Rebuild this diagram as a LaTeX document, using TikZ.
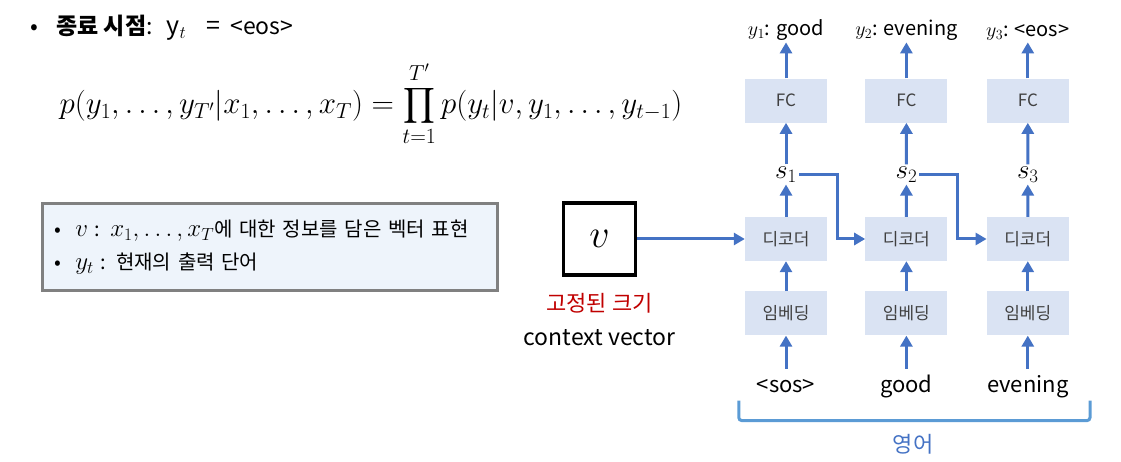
\RequirePackage{fix-cm}
\documentclass[tikz,border=0pt]{standalone}
\usepackage[no-math]{fontspec}
\usepackage{amsmath}
\setmainfont{Noto Sans CJK KR}
\usepackage{tikz}
\usetikzlibrary{shapes, arrows, arrows.meta, positioning, calc}
\definecolor{arrowblue}{HTML}{4472C4}
\definecolor{boxblue}{HTML}{DAE3F3}
\definecolor{boxtext}{HTML}{404040}
\definecolor{notefill}{HTML}{EEF4FB}
\definecolor{notegray}{HTML}{808080}
\definecolor{bracketblue}{HTML}{5B9BD5}
\definecolor{fixedred}{HTML}{C00000}
\newcommand{\bigmath}[1]{{\fontsize{25}{28}\selectfont$#1$}}

\begin{document}
\begin{tikzpicture}[x=1pt, y=-1pt, node distance=30pt, auto]
        % Define block styles
        \tikzstyle{box} = [rectangle, fill=boxblue, text=boxtext, minimum width=82pt, minimum height=44pt, font=\fontsize{17}{20}\selectfont]
        \tikzstyle{word} = [font=\fontsize{22}{26}\selectfont, inner sep=2pt, text height=22pt, text depth=6pt]
        \tikzstyle{outword} = [font=\fontsize{20}{23}\selectfont, inner sep=2pt]
        \tikzstyle{line} = [draw=arrowblue, line width=3pt, -{Triangle[width=12pt, length=11pt]}]

        \useasboundingbox (0,0) rectangle (1121,462);

        % Formula and notes
        \node[anchor=west, font=\fontsize{23}{27}\selectfont] (stop) at (27,28) {\textbullet\hspace{18pt}\textbf{종료 시점}:\hspace{14pt}{\fontsize{25}{28}\selectfont y$_t$}\hspace{20pt}{\fontsize{25}{28}\selectfont =}\hspace{10pt}<eos>};
        \node[font=\fontsize{31}{35}\selectfont] (eq) at (371,104) {$\displaystyle p(y_1, \dots, y_{T'} | x_1, \dots, x_T) = \prod_{t=1}^{T'} p(y_t | v, y_1, \dots, y_{t-1})$};
        \node[draw=notegray, fill=notefill, line width=3pt, minimum width=455pt, minimum height=86pt, text width=430pt, font=\fontsize{20}{33}\selectfont] (note) at (269.5,247) {
            \textbullet\hspace{14pt}\bigmath{v} : \bigmath{x_1, \dots, x_T}에 대한 정보를 담은 벡터 표현\\
            \textbullet\hspace{14pt}\bigmath{y_t} : 현재의 출력 단어
        };

        % Context vector
        \node[draw, line width=3.5pt, minimum size=72pt, font=\fontsize{40}{44}\selectfont] (v) at (599.5,239) {$v$};
        \node[below=13pt of v, text=fixedred, font=\fontsize{22}{26}\selectfont] (fixed) {고정된 크기};
        \node[below=9pt of fixed, font=\fontsize{23}{27}\selectfont] (ctx) {context vector};

        % Decoder columns
        \node[box] (dec1) at (786,239) {디코더};
        \node[box, right=38pt of dec1] (dec2) {디코더};
        \node[box, right=39pt of dec2] (dec3) {디코더};
        \foreach \i in {1,2,3} {
            \node[box, above=94pt of dec\i] (fc\i) {FC};
            \node[box, below=30pt of dec\i] (emb\i) {임베딩};
            \node[font=\fontsize{27}{30}\selectfont, inner sep=2pt] (s\i) at ($(dec\i.north)!0.45!(fc\i.south)$) {$s_\i$};
        }
        \node[outword, above=36pt of fc1] (out1) {$y_1$: good};
        \node[outword, above=36pt of fc2] (out2) {$y_2$: evening};
        \node[outword, above=36pt of fc3] (out3) {$y_3$: <eos>};
        \node[word, below=33pt of emb1] (in1) {<sos>};
        \node[word, below=33pt of emb2] (in2) {good};
        \node[word, below=33pt of emb3] (in3) {evening};
        \node[text=arrowblue, font=\fontsize{22}{26}\selectfont] (lang) at (913,444) {영어};

        % Paths
        \path [line] (v) -- (dec1);
        \foreach \i in {1,2,3} {
            \path [line] (in\i) -- (emb\i);
            \path [line] (emb\i) -- (dec\i);
            \path [line] (dec\i) -- (s\i);
            \path [line] (s\i) -- (fc\i);
            \path [line] (fc\i) -- (out\i);
        }
        \path [line] (s1.east) -- ++(38,0) |- (dec2.west);
        \path [line] (s2.east) -- ++(38,0) |- (dec3.west);
        \draw[bracketblue, line width=3pt, rounded corners=3pt] ($(emb1.south west)+(-6,65)$) -- ($(emb1.south west)+(-6,85)$) -- ($(emb3.south east)+(21,85)$) -- ($(emb3.south east)+(21,65)$);

    \end{tikzpicture}
\end{document}
